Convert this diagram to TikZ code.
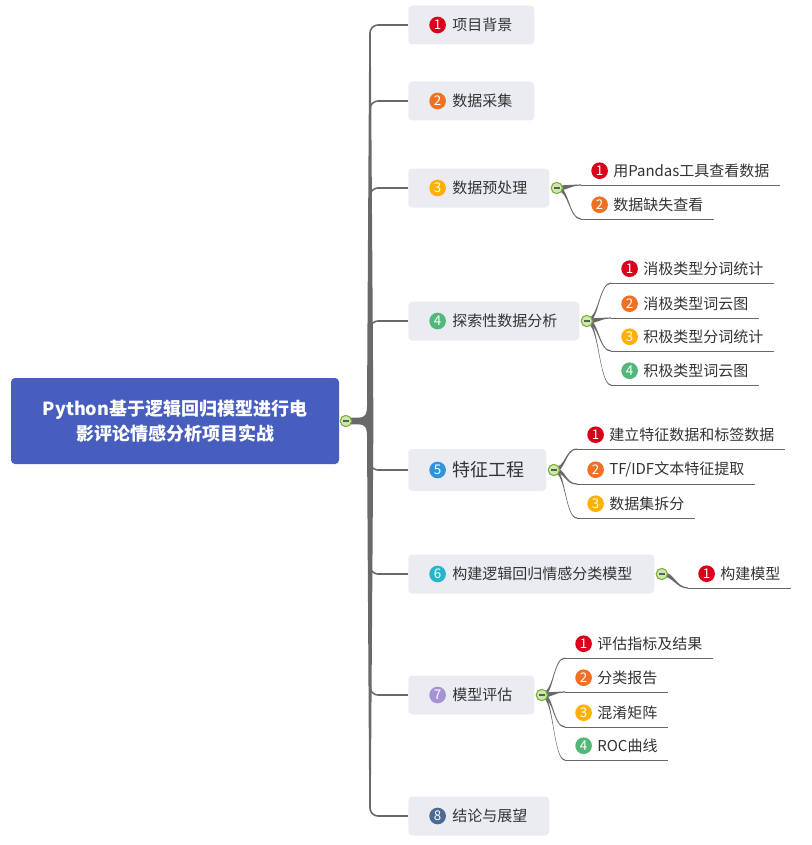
\documentclass[tikz,border=0pt]{standalone}
\usepackage{fontspec}
\setmainfont{Noto Sans CJK SC}
\usepackage{tikz}
\usetikzlibrary{positioning,calc,backgrounds}
\definecolor{RootBlue}{RGB}{72,94,190}
\definecolor{BranchGray}{RGB}{234,236,241}
\definecolor{DarkText}{RGB}{51,51,51}
\definecolor{WireGray}{RGB}{105,105,105}
\definecolor{FoldRim}{RGB}{120,175,60}
\definecolor{FoldFill}{RGB}{205,232,170}
\definecolor{NumRed}{RGB}{218,0,27}
\definecolor{NumOrange}{RGB}{240,112,36}
\definecolor{NumAmber}{RGB}{255,176,0}
\definecolor{NumGreen}{RGB}{82,184,122}
\definecolor{NumBlue}{RGB}{52,146,214}
\definecolor{NumCyan}{RGB}{40,180,202}
\definecolor{NumLilac}{RGB}{166,146,210}
\definecolor{NumSlate}{RGB}{76,106,146}

\begin{document}
\begin{tikzpicture}[
    x=0.75pt, y=-0.75pt,
    root/.style={rectangle, rounded corners=3pt, fill=RootBlue, minimum width=246pt,
        minimum height=64.5pt, text=white, align=center,
        font=\fontsize{13.5}{18.75}\selectfont\bfseries},
    branch/.style={rectangle, rounded corners=3pt, fill=BranchGray, anchor=west,
        minimum height=29.25pt, inner xsep=16.5pt, inner ysep=0pt, text=DarkText,
        font=\fontsize{11.25}{13}\selectfont},
    leaf/.style={anchor=south west, minimum height=21pt, inner xsep=7.5pt, inner ysep=0pt,
        text=DarkText, font=\fontsize{11.25}{13}\selectfont},
    badge/.style={circle, inner sep=0pt, minimum size=12.5pt, text=white,
        font=\fontsize{10}{10}\selectfont},
    fold/.style={circle, draw=FoldRim, fill=FoldFill, line width=0.8pt, inner sep=0pt,
        minimum size=8.5pt, text=DarkText!80},
    wire/.style={fill=WireGray},
    stem/.style={draw=WireGray, line width=1.2pt, rounded corners=6pt},
    rule/.style={draw=WireGray, line width=0.75pt},
    taper/.style={to path={($(\tikztostart)+(0,-2.4)$) .. controls +(12,0) and +(-12,0)
        .. ($(\tikztotarget)+(0,-0.6)$) -- ($(\tikztotarget)+(0,0.6)$)
        .. controls +(-12,0) and +(12,0) .. ($(\tikztostart)+(0,2.4)$) -- cycle}},
]
\useasboundingbox (0,0) rectangle (811,845);

% root
\node[root] (root) at (175,421) {Python基于逻辑回归模型进行电\\影评论情感分析项目实战};
\node[fold, right=0.3pt of root.east] (k0) {\rule[-0.4pt]{4.4pt}{0.8pt}};
\coordinate (spine) at (370,421);

% main branches
\node[branch] (n1) at (408,25) {\hspace*{16.5pt}项目背景};
\node[branch] (n2) at (408,101) {\hspace*{16.5pt}数据采集};
\node[branch] (n3) at (408,188) {\hspace*{16.5pt}数据预处理};
\node[branch] (n4) at (408,321) {\hspace*{16.5pt}探索性数据分析};
\node[branch, minimum height=31.5pt, font=\fontsize{13.5}{16}\selectfont] (n5) at (408,470) {\hspace*{16.5pt}特征工程};
\node[branch] (n6) at (408,574) {\hspace*{16.5pt}构建逻辑回归情感分类模型};
\node[branch] (n7) at (408,695) {\hspace*{16.5pt}模型评估};
\node[branch] (n8) at (408,816) {\hspace*{16.5pt}结论与展望};

\node[badge, fill=NumRed, right=15.75pt of n1.west] (b1) {1};
\node[badge, fill=NumOrange, right=15.75pt of n2.west] (b2) {2};
\node[badge, fill=NumAmber, right=15.75pt of n3.west] (b3) {3};
\node[badge, fill=NumGreen, right=15.75pt of n4.west] (b4) {4};
\node[badge, fill=NumBlue, right=15.75pt of n5.west] (b5) {5};
\node[badge, fill=NumCyan, right=15.75pt of n6.west] (b6) {6};
\node[badge, fill=NumLilac, right=15.75pt of n7.west] (b7) {7};
\node[badge, fill=NumSlate, right=15.75pt of n8.west] (b8) {8};

\node[fold, right=0.8pt of n3.east] (k3) {\rule[-0.4pt]{4.4pt}{0.8pt}};
\node[fold, right=0.8pt of n4.east] (k4) {\rule[-0.4pt]{4.4pt}{0.8pt}};
\node[fold, right=0.8pt of n5.east] (k5) {\rule[-0.4pt]{4.4pt}{0.8pt}};
\node[fold, right=0.8pt of n6.east] (k6) {\rule[-0.4pt]{4.4pt}{0.8pt}};
\node[fold, right=0.8pt of n7.east] (k7) {\rule[-0.4pt]{4.4pt}{0.8pt}};

% sub topics
\node[leaf] (c31) at (581,185) {\hspace*{16.5pt}用Pandas工具查看数据};
\node[leaf] (c32) at (581,219) {\hspace*{16.5pt}数据缺失查看};
\node[leaf] (c41) at (611,283) {\hspace*{16.5pt}消极类型分词统计};
\node[leaf] (c42) at (611,318) {\hspace*{16.5pt}消极类型词云图};
\node[leaf] (c43) at (611,351) {\hspace*{16.5pt}积极类型分词统计};
\node[leaf] (c44) at (611,385) {\hspace*{16.5pt}积极类型词云图};
\node[leaf] (c51) at (577,449) {\hspace*{16.5pt}建立特征数据和标签数据};
\node[leaf] (c52) at (577,484) {\hspace*{16.5pt}TF/IDF文本特征提取};
\node[leaf] (c53) at (577,518) {\hspace*{16.5pt}数据集拆分};
\node[leaf] (c61) at (688,588) {\hspace*{16.5pt}构建模型};
\node[leaf] (c71) at (565,658) {\hspace*{16.5pt}评估指标及结果};
\node[leaf] (c72) at (565,692) {\hspace*{16.5pt}分类报告};
\node[leaf] (c73) at (565,727) {\hspace*{16.5pt}混淆矩阵};
\node[leaf] (c74) at (565,760) {\hspace*{16.5pt}ROC曲线};

\node[badge, fill=NumRed, right=7.5pt of c31.west] {1};
\node[badge, fill=NumOrange, right=7.5pt of c32.west] {2};
\node[badge, fill=NumRed, right=7.5pt of c41.west] {1};
\node[badge, fill=NumOrange, right=7.5pt of c42.west] {2};
\node[badge, fill=NumAmber, right=7.5pt of c43.west] {3};
\node[badge, fill=NumGreen, right=7.5pt of c44.west] {4};
\node[badge, fill=NumRed, right=7.5pt of c51.west] {1};
\node[badge, fill=NumOrange, right=7.5pt of c52.west] {2};
\node[badge, fill=NumAmber, right=7.5pt of c53.west] {3};
\node[badge, fill=NumRed, right=7.5pt of c61.west] {1};
\node[badge, fill=NumRed, right=7.5pt of c71.west] {1};
\node[badge, fill=NumOrange, right=7.5pt of c72.west] {2};
\node[badge, fill=NumAmber, right=7.5pt of c73.west] {3};
\node[badge, fill=NumGreen, right=7.5pt of c74.west] {4};

\begin{scope}[on background layer]
% trunk
\fill[wire] ($(k0)+(0,-3.4)$) -- (358,417.6) .. controls (366,417.6) and (366.8,414) .. (367,406)
    -- (369.2,38) -- (370.8,38) -- (373.4,421) -- (370.8,804) -- (369.2,804) -- (367,436)
    .. controls (366.8,428) and (366,424.4) .. (358,424.4) -- ($(k0)+(0,3.4)$) -- cycle;
\draw[stem] (spine) |- (n1.west);
\draw[stem] (spine) |- (n2.west);
\draw[stem] (spine) |- (n3.west);
\draw[stem] (spine) |- (n4.west);
\draw[stem] (spine) |- (n5.west);
\draw[stem] (spine) |- (n6.west);
\draw[stem] (spine) |- (n7.west);
\draw[stem] (spine) |- (n8.west);

% twigs
\fill[wire] (k3) to[taper] (c31.south west);
\fill[wire] (k3) to[taper] (c32.south west);
\fill[wire] (k4) to[taper] (c41.south west);
\fill[wire] (k4) to[taper] (c42.south west);
\fill[wire] (k4) to[taper] (c43.south west);
\fill[wire] (k4) to[taper] (c44.south west);
\fill[wire] (k5) to[taper] (c51.south west);
\fill[wire] (k5) to[taper] (c52.south west);
\fill[wire] (k5) to[taper] (c53.south west);
\fill[wire] (k6) to[taper] (c61.south west);
\fill[wire] (k7) to[taper] (c71.south west);
\fill[wire] (k7) to[taper] (c72.south west);
\fill[wire] (k7) to[taper] (c73.south west);
\fill[wire] (k7) to[taper] (c74.south west);

\draw[rule] (c31.south west) -- (c31.south east);
\draw[rule] (c32.south west) -- (c32.south east);
\draw[rule] (c41.south west) -- (c41.south east);
\draw[rule] (c42.south west) -- (c42.south east);
\draw[rule] (c43.south west) -- (c43.south east);
\draw[rule] (c44.south west) -- (c44.south east);
\draw[rule] (c51.south west) -- (c51.south east);
\draw[rule] (c52.south west) -- (c52.south east);
\draw[rule] (c53.south west) -- (c53.south east);
\draw[rule] (c61.south west) -- (c61.south east);
\draw[rule] (c71.south west) -- (c71.south east);
\draw[rule] (c72.south west) -- (c72.south east);
\draw[rule] (c73.south west) -- (c73.south east);
\draw[rule] (c74.south west) -- (c74.south east);
\end{scope}
\end{tikzpicture}
\end{document}
